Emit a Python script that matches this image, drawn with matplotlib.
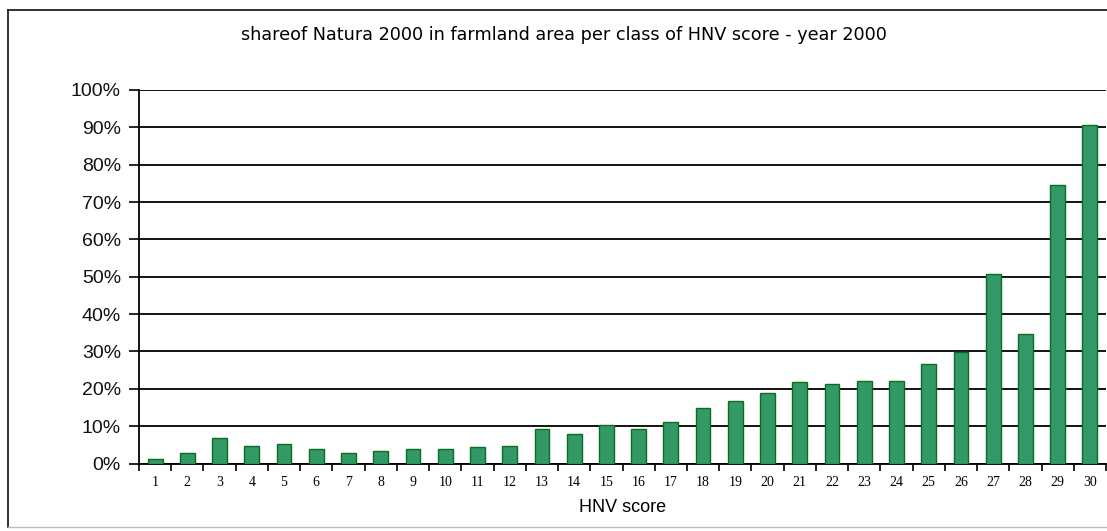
import numpy as np
import matplotlib.pyplot as plt
from matplotlib.lines import Line2D
from matplotlib.ticker import FixedLocator, FuncFormatter

hnv_scores = list(range(1, 31))
share_pct = [1.3, 2.7, 6.8, 4.8, 5.3, 3.8, 2.7, 3.3, 3.8, 3.8,
             4.3, 4.8, 9.3, 7.8, 10.2, 9.3, 11.2, 14.8, 16.8, 18.8,
             21.7, 21.3, 22.2, 22.2, 26.6, 29.9, 50.8, 34.6, 74.6, 90.6]

title = 'shareof Natura 2000 in farmland area per class of HNV score - year 2000'
xlabel = 'HNV score'

W, H = 1107, 531
fig = plt.figure(figsize=(W / 100, H / 100), dpi=100)
fig.patch.set_facecolor('white')

# outer chart frame (right side cut off like the reference)
fig.add_artist(Line2D([8 / W, 8 / W], [1 - 527 / H, 1 - 10 / H], transform=fig.transFigure,
                      color='#222222', linewidth=1.3))
fig.add_artist(Line2D([8 / W, 1], [1 - 10 / H, 1 - 10 / H], transform=fig.transFigure,
                      color='#222222', linewidth=1.3))
fig.add_artist(Line2D([8 / W, 1], [1 - 527 / H, 1 - 527 / H], transform=fig.transFigure,
                      color='#bbbbbb', linewidth=1.0))

ax = fig.add_axes([139 / W, 1 - 463.5 / H, (1106 - 139) / W, (463.5 - 90) / H])

x = np.arange(len(hnv_scores))
ax.bar(x, share_pct, width=0.46, color='#339966', edgecolor='#0a6e1e', linewidth=1.0, zorder=3)

ax.set_xlim(-0.5, len(hnv_scores) - 0.5)
ax.set_ylim(0, 100)

ax.set_yticks(np.arange(0, 101, 10))
ax.yaxis.set_major_formatter(FuncFormatter(lambda v, p: '%d%%' % v))
ax.yaxis.grid(True, color='black', linewidth=1.3, zorder=1)
ax.set_axisbelow(True)

# category boundary ticks, labels centred under bars
ax.xaxis.set_major_locator(FixedLocator(np.arange(-0.5, len(hnv_scores), 1.0)))
ax.xaxis.set_major_formatter(FuncFormatter(lambda v, p: ''))
ax.set_xticks(x, minor=True)
ax.set_xticklabels([str(s) for s in hnv_scores], minor=True,
                   fontfamily='Liberation Serif', fontsize=10)
ax.tick_params(axis='x', which='major', direction='out', length=5, width=1.2, color='black')
ax.tick_params(axis='x', which='minor', length=0, pad=9)
ax.tick_params(axis='y', direction='out', length=7, width=1.2, labelsize=14, pad=6)
for lbl in ax.get_yticklabels():
    lbl.set_fontfamily('Liberation Sans')
    lbl.set_color('#111111')

for side in ['top', 'right']:
    ax.spines[side].set_visible(False)
ax.spines['left'].set_linewidth(1.3)
ax.spines['bottom'].set_linewidth(1.3)

ax.set_xlabel(xlabel, fontsize=13, fontfamily='Liberation Sans', labelpad=7)
fig.text(564 / W, 1 - 35 / H, title, ha='center', va='center',
         fontsize=12.7, fontfamily='DejaVu Sans')

fig.savefig('out.png', dpi=100)
